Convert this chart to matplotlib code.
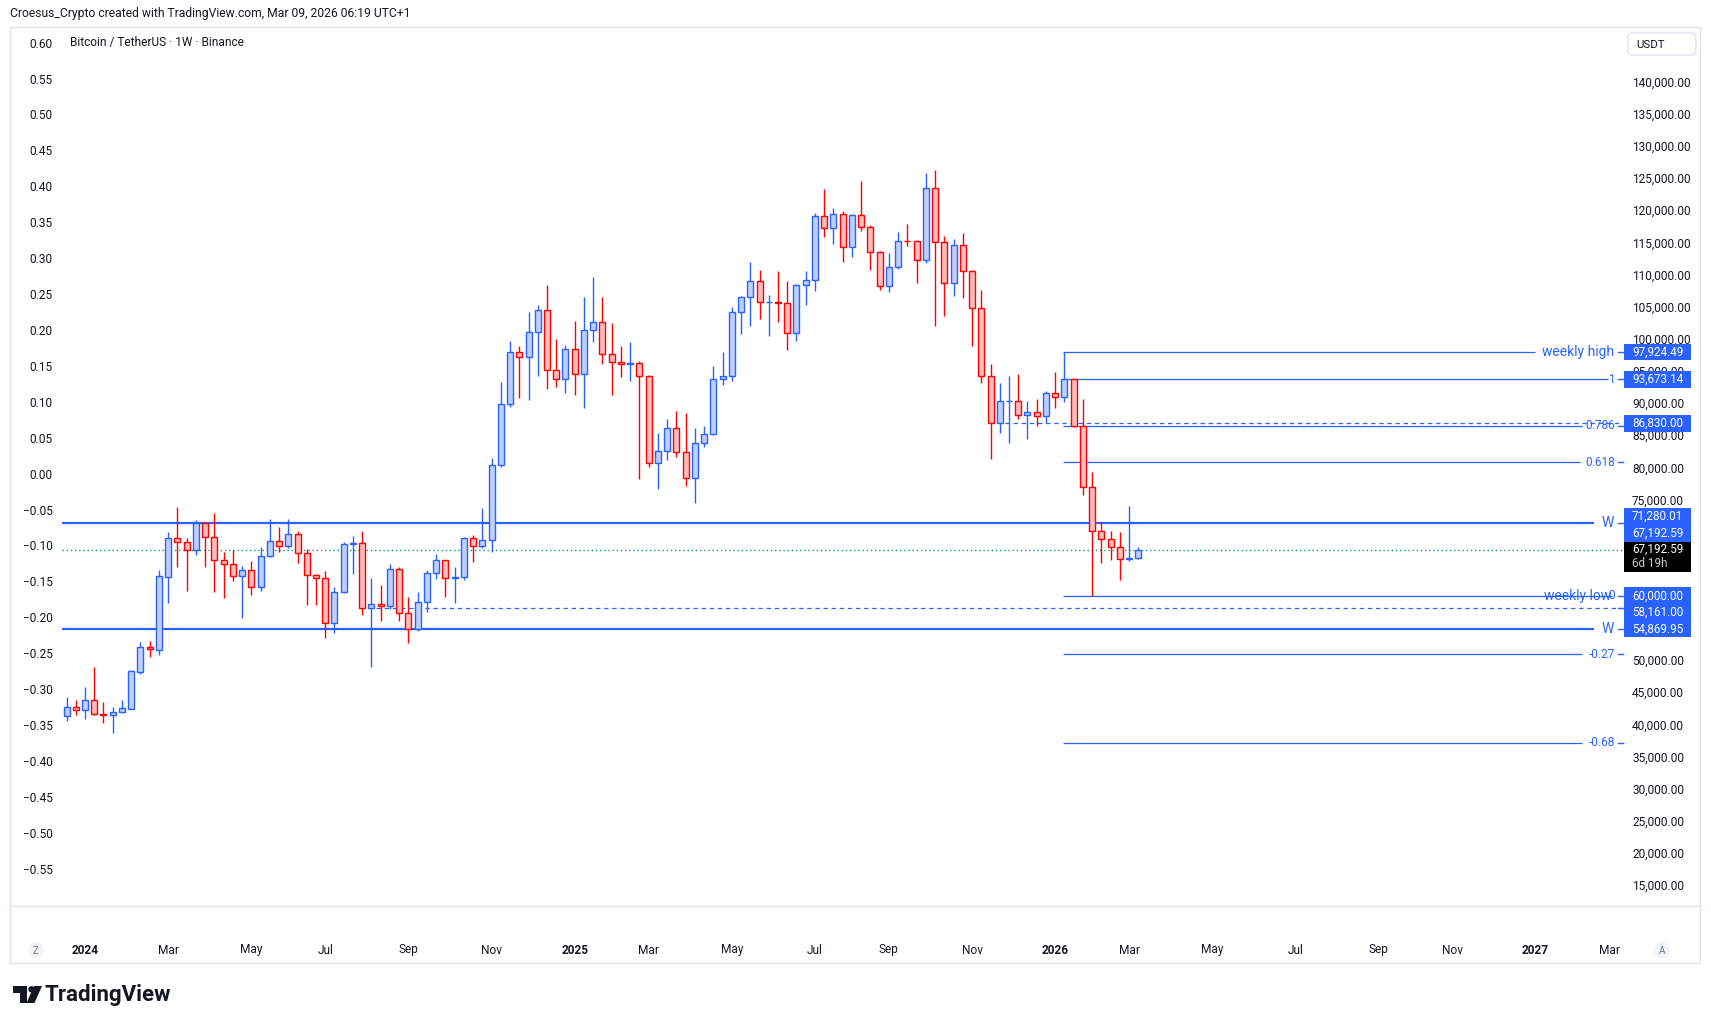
import numpy as np
import pandas as pd
import matplotlib
matplotlib.use("Agg")
import matplotlib.pyplot as plt
from matplotlib.patches import Rectangle, FancyBboxPatch, Circle, Polygon

plt.rcParams['font.family'] = ['Roboto', 'DejaVu Sans']

# ---------------- data ----------------
first_week = '2023-12-18'
opens = [41257, 42750, 42183, 43738, 41600, 41405, 41871, 42442, 48200, 51986,
         51623, 62982, 68948, 68325, 67080, 71282, 69207, 65524, 64902, 63034,
         63968, 61323, 66147, 68481, 67703, 69570, 66614, 63190, 62723, 55720,
         60649, 68014, 68170, 58055, 58677, 58418, 64175, 57277, 54787, 58988,
         63501, 65524, 62723, 62900, 68946, 67804, 68686, 80305, 89797, 97889,
         97111, 101001, 104425, 95088, 93688, 98356, 94466, 101313, 102557, 97578,
         96333, 96022, 96177, 94154, 80616, 82484, 86063, 82328, 78283, 83729,
         85129, 93688, 94154, 104113, 106448, 108937, 105670, 105750, 105600, 100846,
         108315, 109093, 119051, 117184, 119362, 114227, 119207, 117339, 113449, 108158,
         111115, 115250, 115161, 112204, 123408, 115005, 108625, 114538, 110492, 104734,
         94153, 86840, 90263, 90350, 88086, 88553, 87931, 91510, 90887, 93673,
         86478, 76882, 70139, 68790, 67546, 65678, 65850]
highs = [44213, 43790, 45762, 48874, 43480, 42650, 43790, 48459, 52816, 52972,
         63968, 69934, 73875, 68948, 71801, 71500, 72838, 66821, 67132, 64642,
         65421, 67547, 71905, 70660, 71905, 70089, 67288, 63400, 63864, 61323,
         68377, 69311, 70141, 62827, 61686, 64953, 64435, 59767, 60544, 64020,
         66510, 65600, 64538, 69206, 69464, 73614, 81394, 93220, 99653, 98874,
         104165, 105255, 108367, 99912, 99030, 102765, 106500, 109612, 106500, 102454,
         98874, 99497, 96540, 94362, 85336, 87515, 88760, 88449, 86063, 86426,
         95763, 97941, 104891, 106655, 111894, 110701, 106810, 110545, 108989, 108523,
         110545, 119518, 123304, 120348, 119829, 119414, 124549, 117651, 113656, 113345,
         116613, 117858, 115368, 125742, 126261, 115991, 115523, 116458, 110700, 107588,
         96073, 93116, 94204, 94500, 90317, 90628, 91873, 94830, 97924.49, 93700,
         90628, 79216, 71436, 70036, 69880, 73977, 67546]
lows = [40570, 41405, 40781, 41400, 40263, 38603, 41700, 42339, 47785, 50534,
        50845, 58937, 64538, 60804, 66406, 64538, 60648, 59611, 62360, 56602,
        60182, 60804, 66000, 66770, 67500, 65161, 58522, 58522, 53490, 54268,
        60500, 63397, 57018, 48978, 56136, 57900, 56083, 52609, 54580, 57536,
        62568, 59870, 58937, 62462, 65314, 67389, 66871, 80100, 89434, 90835,
        90472, 94258, 92235, 92546, 91613, 91301, 89279, 99549, 96126, 91301,
        94103, 93480, 78230, 80098, 76673, 81135, 81654, 77141, 74496, 83210,
        85000, 92858, 93480, 100794, 102039, 103128, 100483, 102661, 98304, 99705,
        105203, 107484, 115835, 114798, 112007, 112775, 116821, 110752, 107536, 107328,
        110804, 114486, 108729, 111737, 102037, 103593, 106706, 106395, 98925, 93064,
        81238, 85284, 83831, 87568, 84455, 86478, 86841, 89279, 90212, 86219,
        75689, 60000, 65160, 65627, 62514, 65419, 65800]
closes = [42750, 42183, 43738, 41560, 41500, 41871, 42494, 48251, 51986, 51675,
          63034, 68948, 68325, 67080, 71282, 69207, 65524, 64902, 63034, 63968,
          61323, 66147, 68481, 67703, 69570, 66614, 63190, 62723, 55720, 60649,
          68014, 68170, 58055, 58677, 58418, 64175, 57277, 54787, 58988, 63501,
          65524, 62723, 62900, 68946, 67804, 68686, 80305, 89797, 97889, 97111,
          101001, 104425, 95088, 93688, 98356, 94466, 101313, 102557, 97578, 96333,
          96022, 96177, 94154, 80616, 82484, 86063, 82328, 78283, 83729, 85129,
          93688, 94154, 104113, 106448, 108937, 105670, 105750, 105600, 100846, 108315,
          109093, 119051, 117184, 119362, 114227, 119207, 117339, 113449, 108158, 111115,
          115161, 115161, 112204, 123408, 115005, 108625, 114538, 110492, 104734, 94153,
          86840, 90263, 90350, 88086, 88553, 87931, 91510, 90887, 93673.14, 86478,
          76882, 70139, 68790, 67546, 65678, 65850, 67192.59]

tick_dates = ['2024-01-01', '2024-03-04', '2024-05-06', '2024-07-01', '2024-09-02', '2024-11-04',
              '2025-01-06', '2025-03-03', '2025-05-05', '2025-07-07', '2025-09-01', '2025-11-03',
              '2026-01-05', '2026-03-02', '2026-05-04', '2026-07-06', '2026-09-07', '2026-11-02',
              '2027-01-04', '2027-03-01']
tick_labels = ['2024', 'Mar', 'May', 'Jul', 'Sep', 'Nov',
               '2025', 'Mar', 'May', 'Jul', 'Sep', 'Nov',
               '2026', 'Mar', 'May', 'Jul', 'Sep', 'Nov',
               '2027', 'Mar']
price_ticks = [15000, 20000, 25000, 30000, 35000, 40000, 45000, 50000, 55000, 60000,
               65000, 70000, 75000, 80000, 85000, 90000, 95000, 100000, 105000, 110000,
               115000, 120000, 125000, 130000, 135000, 140000]
left_ticks = [0.60, 0.55, 0.50, 0.45, 0.40, 0.35, 0.30, 0.25, 0.20, 0.15, 0.10, 0.05, 0.00,
              -0.05, -0.10, -0.15, -0.20, -0.25, -0.30, -0.35, -0.40, -0.45, -0.50, -0.55]

w_upper = 71280.01
w_lower = 54869.95
weekly_high = 97924.49
weekly_low = 60000.00
fib_one = 93673.14
fib_zero = 60000.00
fib_ratios = [1, 0.786, 0.618, 0, -0.27, -0.68]
fib_texts = ['1', '0.786', '0.618', '0', '-0.27', '-0.68']
dashed_upper = 86830.00
dashed_lower = 58161.00
last_price = 67192.59
countdown = '6d 19h'
fib_start_week = '2026-01-12'
dashed_lower_start = '2024-08-05'
dashed_upper_start = '2025-12-01'

LEFT_ZERO_PRICE = 79013.0
LEFT_UNIT_PRICE = 111787.0

# ---------------- helpers ----------------
base = pd.Timestamp('2024-01-01')
def wk(d):
    return (pd.Timestamp(d) - base).days / 7.0

weeks = pd.date_range(first_week, periods=len(opens), freq='W-MON')
x = np.array([wk(d) for d in weeks])
O = np.array(opens, float); Hh = np.array(highs, float)
L = np.array(lows, float); C = np.array(closes, float)

W, H = 1711, 1025
fig = plt.figure(figsize=(W / 100, H / 100), dpi=100)
fig.patch.set_facecolor('white')

BLUE = '#2962ff'
RED = '#ff0000'
UPFILL = '#bfd0ff'
DNFILL = '#ffbfbf'
TXT = '#131722'
GRID = '#e0e3eb'

# background overlay (pixel coords, y downward)
bg = fig.add_axes([0, 0, 1, 1], zorder=0)
bg.set_xlim(0, W); bg.set_ylim(H, 0); bg.axis('off')
bg.add_patch(Rectangle((10, 27), 1690, 936, fill=False, edgecolor=GRID, lw=1))
bg.plot([10, 1700], [906, 906], color=GRID, lw=1)

# main axes
ax_l, ax_r, ax_t, ax_b = 62, 1624, 27, 906
ax = fig.add_axes([ax_l / W, 1 - ax_b / H, (ax_r - ax_l) / W, (ax_b - ax_t) / H], zorder=1)
ax.set_facecolor('none')
XMIN, XMAX = -2.49, 166.56
YMIN, YMAX = 11739, 148511
ax.set_xlim(XMIN, XMAX)
ax.set_ylim(YMIN, YMAX)
for s in ax.spines.values():
    s.set_visible(False)

# candles
up = C >= O
edge = np.where(up, BLUE, RED)
fill = np.where(up, UPFILL, DNFILL)
bottom = np.minimum(O, C)
height = np.maximum(np.abs(C - O), 120)
ax.vlines(x, L, Hh, colors=edge, lw=1.0, zorder=3)
ax.bar(x, height, bottom=bottom, width=0.65, color=fill, edgecolor=edge, linewidth=1.0, zorder=4)

def xe(px):  # horizontal pixel position inside the pane -> week units
    return XMIN + (px - ax_l) / (ax_r - ax_l) * (XMAX - XMIN)

fs = wk(fib_start_week) - 0.15
# W lines
ax.hlines([w_upper, w_lower], XMIN, xe(1594), colors=BLUE, lw=1.6, zorder=2)
# last price dotted
ax.hlines(last_price, XMIN, xe(1622), colors='#089981', lw=1.0, linestyles=(0, (1, 2)), zorder=2)
# dashed lines
ax.hlines(dashed_lower, wk(dashed_lower_start) - 0.4, xe(1622), colors=BLUE, lw=0.9,
          linestyles=(0, (3.5, 3)), zorder=2)
ax.hlines(dashed_upper, wk(dashed_upper_start) - 0.4, xe(1622), colors=BLUE, lw=0.9,
          linestyles=(0, (3.5, 3)), zorder=2)
# weekly high line
ax.hlines(weekly_high, fs, xe(1535), colors=BLUE, lw=0.9, zorder=2)
# fib lines
fib_prices = [fib_zero + r * (fib_one - fib_zero) for r in fib_ratios]
fib_ends = [1608, 1582, 1580, 1612, 1582, 1582]
for fp, fe in zip(fib_prices, fib_ends):
    ax.hlines(fp, fs, xe(fe), colors=BLUE, lw=0.9, zorder=2)

# labels on the chart
tx = xe(1615)
ax.text(xe(1614), weekly_high, 'weekly high', color=BLUE, fontsize=10, ha='right', va='center', zorder=5)
ax.text(xe(1614), w_upper, 'W', color=BLUE, fontsize=10, ha='right', va='center', zorder=5)
ax.text(xe(1614), w_lower, 'W', color=BLUE, fontsize=10, ha='right', va='center', zorder=5)
ax.text(xe(1611), weekly_low, 'weekly low', color=BLUE, fontsize=10, ha='right', va='center', zorder=5)
for fp, ft in zip(fib_prices, fib_texts):
    ax.text(tx, fp, ft, color=BLUE, fontsize=8.6, ha='right', va='center', zorder=5)

# axis ticks / labels
ax.yaxis.tick_right()
ax.set_yticks(price_ticks)
ax.set_yticklabels([f'{p:,.2f}' for p in price_ticks])
ax.tick_params(axis='y', length=0, pad=5.8, labelsize=8.6, labelcolor=TXT)
ax.set_xticks([wk(d) for d in tick_dates])
ax.set_xticklabels(tick_labels)
ax.tick_params(axis='x', length=0, pad=27, labelsize=8.6, labelcolor=TXT)
for lab in ax.get_xticklabels():
    if lab.get_text().isdigit():
        lab.set_fontweight('bold')

sec = ax.secondary_yaxis('left', functions=(lambda p: (p - LEFT_ZERO_PRICE) / LEFT_UNIT_PRICE,
                                            lambda v: v * LEFT_UNIT_PRICE + LEFT_ZERO_PRICE))
sec.set_yticks(left_ticks)
sec.set_yticklabels([f'{v:.2f}'.replace('-', '\u2212') for v in left_ticks])
sec.tick_params(length=0, pad=6.5, labelsize=8.6, labelcolor=TXT)
for s in sec.spines.values():
    s.set_visible(False)

# foreground overlay
fg = fig.add_axes([0, 0, 1, 1], zorder=2)
fg.set_xlim(0, W); fg.set_ylim(H, 0); fg.axis('off')
fg.patch.set_alpha(0)

def fy(price):
    return H - ax.transData.transform((0, price))[1]

# axis tick marks next to labels
for lv in [weekly_high, fib_one, fib_prices[1], fib_prices[2], w_upper, weekly_low, dashed_lower,
           w_lower, fib_prices[4], fib_prices[5]]:
    fg.plot([1618, 1623], [fy(lv), fy(lv)], color=BLUE, lw=1)

box_items = [(weekly_high, 0), (fib_one, 0), (dashed_upper, 0), (w_upper, -6.6),
             (last_price, -16.3), (weekly_low, 0), (dashed_lower, 5.0), (w_lower, 0)]
bh = 16.7
for price, dy in box_items:
    yc = fy(price) + dy
    fg.add_patch(Rectangle((1624, yc - bh / 2), 67, bh, facecolor=BLUE, edgecolor='none'))
    fg.text(1632, yc, f'{price:,.2f}', color='white', fontsize=8.4, ha='left', va='center')
yc = fy(last_price)
fg.add_patch(Rectangle((1624, yc - 7.8), 67, 30, facecolor='black', edgecolor='none'))
fg.text(1632, yc, f'{last_price:,.2f}', color='white', fontsize=8.4, ha='left', va='center')
fg.text(1632, yc + 14, countdown, color='#c8cad0', fontsize=8.4, ha='left', va='center')

# header / legend
fg.text(10, 14, 'Croesus_Crypto created with TradingView.com, Mar 09, 2026 06:19 UTC+1',
        color=TXT, fontsize=8.7, ha='left', va='center')
fg.text(70, 42.5, 'Bitcoin / TetherUS \u00b7 1W \u00b7 Binance', color=TXT, fontsize=8.6,
        ha='left', va='center')
fg.add_patch(FancyBboxPatch((1628, 33), 68, 22, boxstyle='round,pad=0,rounding_size=4',
                            facecolor='white', edgecolor=GRID, lw=1))
fg.text(1636, 44.5, 'USDT', color=TXT, fontsize=8.2, ha='left', va='center')

# Z / A buttons
for cx, t in [(36, 'Z'), (1662, 'A')]:
    fg.add_patch(Circle((cx, 950), 8, facecolor='#f0f3fa', edgecolor='none'))
    fg.text(cx, 950.5, t, color='#787b86', fontsize=7.2, ha='center', va='center')

# TradingView logo
fg.add_patch(Polygon([(13, 986), (27, 986), (27, 1003), (20, 1003), (20, 992.5), (13, 992.5)],
                     closed=True, facecolor=TXT, edgecolor='none'))
fg.add_patch(Circle((31.5, 989.3), 3.2, facecolor=TXT, edgecolor='none'))
fg.add_patch(Polygon([(34, 986), (42, 986), (34.5, 1003), (26.5, 1003)], closed=True,
                     facecolor=TXT, edgecolor='none'))
fg.text(45, 995, 'TradingView', color=TXT, fontsize=16, fontweight='bold', ha='left', va='center')

fig.savefig('out.png', dpi=100, facecolor='white')
